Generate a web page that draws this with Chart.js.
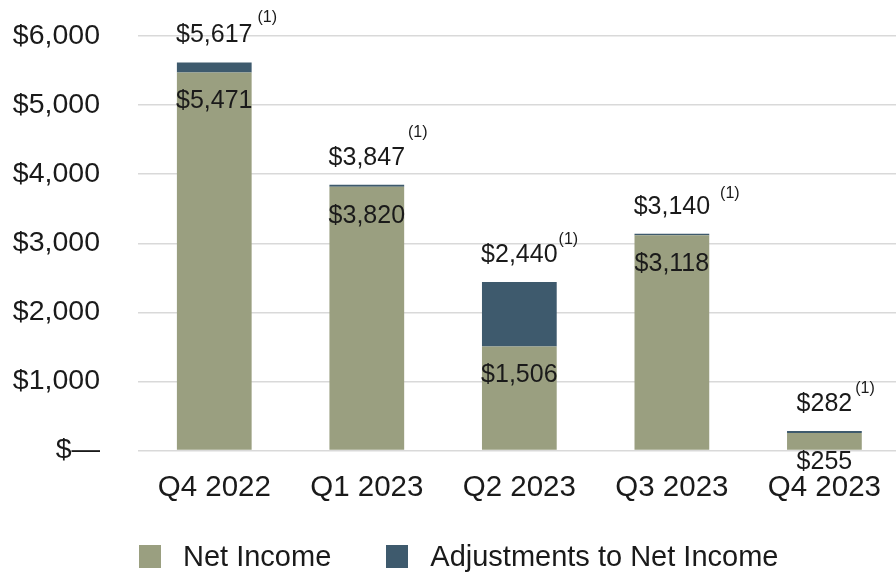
<!DOCTYPE html>
<html>
<head>
<meta charset="utf-8">
<script src="https://cdn.jsdelivr.net/npm/chart.js@4.4.1/dist/chart.umd.min.js"></script>
<style>
  html, body { margin: 0; padding: 0; background: #fff; overflow: hidden; }
  #wrap { position: relative; width: 901px; height: 574px; }
  #legend { position: absolute; left: 139px; top: 540px; display: flex; align-items: center;
            font-family: 'Liberation Sans', Arial, sans-serif; font-size: 29px; color: #1a1a1a; }
  #legend .item { display: flex; align-items: center; margin-right: 55px; }
  #legend .box { width: 22px; height: 23px; margin-right: 22px; }
</style>
</head>
<body>
<div id="wrap">
  <canvas id="myChart" width="901" height="574"></canvas>
  <div id="legend"></div>
</div>
<script>
var quarters = ["Q4 2022", "Q1 2023", "Q2 2023", "Q3 2023", "Q4 2023"];
var netIncome = [5471, 3820, 1506, 3118, 255];
var adjustments = [146, 27, 934, 22, 27];
var yTicks = [0, 1000, 2000, 3000, 4000, 5000, 6000];

// small nudges for the "(1)" footnote marks [dx, dy]
var noteNudge = [[5, -18], [3, -25], [1, -15], [10, -13], [3, -16]];

var FONT = "'Liberation Sans', Arial, sans-serif";
var INK = "#1a1a1a";

function money(v) {
	return v === 0 ? "$\u2014" : "$" + v.toLocaleString("en-US");
}

var barLabels = {
	id: "barLabels",
	afterDatasetsDraw: function(chart) {
		var ctx = chart.ctx;
		var y = chart.scales.y;
		var meta = chart.getDatasetMeta(0);
		ctx.save();
		ctx.fillStyle = INK;
		ctx.textBaseline = "middle";
		meta.data.forEach(function(bar, i) {
			var total = netIncome[i] + adjustments[i];
			var topY = y.getPixelForValue(total);
			var netY = y.getPixelForValue(netIncome[i]);
			ctx.font = "25px " + FONT;
			ctx.textAlign = "center";
			var txt = money(total);
			ctx.fillText(txt, bar.x, topY - 27);
			ctx.fillText(money(netIncome[i]), bar.x, netY + 29);
			var w = ctx.measureText(txt).width;
			ctx.font = "16px " + FONT;
			ctx.textAlign = "left";
			ctx.fillText("(1)", bar.x + w / 2 + noteNudge[i][0], topY - 27 + noteNudge[i][1]);
		});
		ctx.restore();
	}
};

var ctx = document.getElementById("myChart");

var myChart = new Chart(ctx, {
	type: "bar",
	data: {
		labels: quarters,
		datasets: [
			{
				label: "Net Income",
				data: netIncome,
				backgroundColor: "#9a9f80"
			},
			{
				label: "Adjustments to Net Income",
				data: adjustments,
				backgroundColor: "#3e5a6d"
			}
		]
	},
	options: {
		responsive: false,
		animation: false,
		layout: {
			padding: { top: 36, left: 13, right: 0, bottom: 48 }
		},
		datasets: {
			bar: { barPercentage: 0.49, categoryPercentage: 1 }
		},
		scales: {
			x: {
				stacked: true,
				grid: { display: false, drawTicks: false },
				border: { display: false },
				ticks: { color: INK, padding: 20, font: { family: FONT, size: 29.5 } }
			},
			y: {
				stacked: true,
				min: 0,
				max: 6000,
				afterBuildTicks: function(scale) {
					scale.ticks = yTicks.map(function(v) { return { value: v }; });
				},
				afterFit: function(scale) {
					// fixed label column, and no extra room above/below from the tick padding
					scale.width = 125;
					scale.paddingTop = 0;
					scale.paddingBottom = 0;
				},
				grid: { color: "#d9d9d9", lineWidth: 1.5, drawTicks: false },
				border: { display: false },
				ticks: {
					color: INK,
					padding: 38,
					font: { family: FONT, size: 28.5 },
					callback: function(v) { return money(v); }
				}
			}
		},
		plugins: {
			legend: { display: false },
			tooltip: { enabled: false }
		}
	},
	plugins: [barLabels]
});

// legend below the chart
var legend = document.getElementById("legend");
myChart.data.datasets.forEach(function(ds) {
	var item = document.createElement("div");
	item.className = "item";
	item.innerHTML = '<span class="box" style="background:' + ds.backgroundColor + '"></span>' + ds.label;
	legend.appendChild(item);
});
</script>
</body>
</html>
